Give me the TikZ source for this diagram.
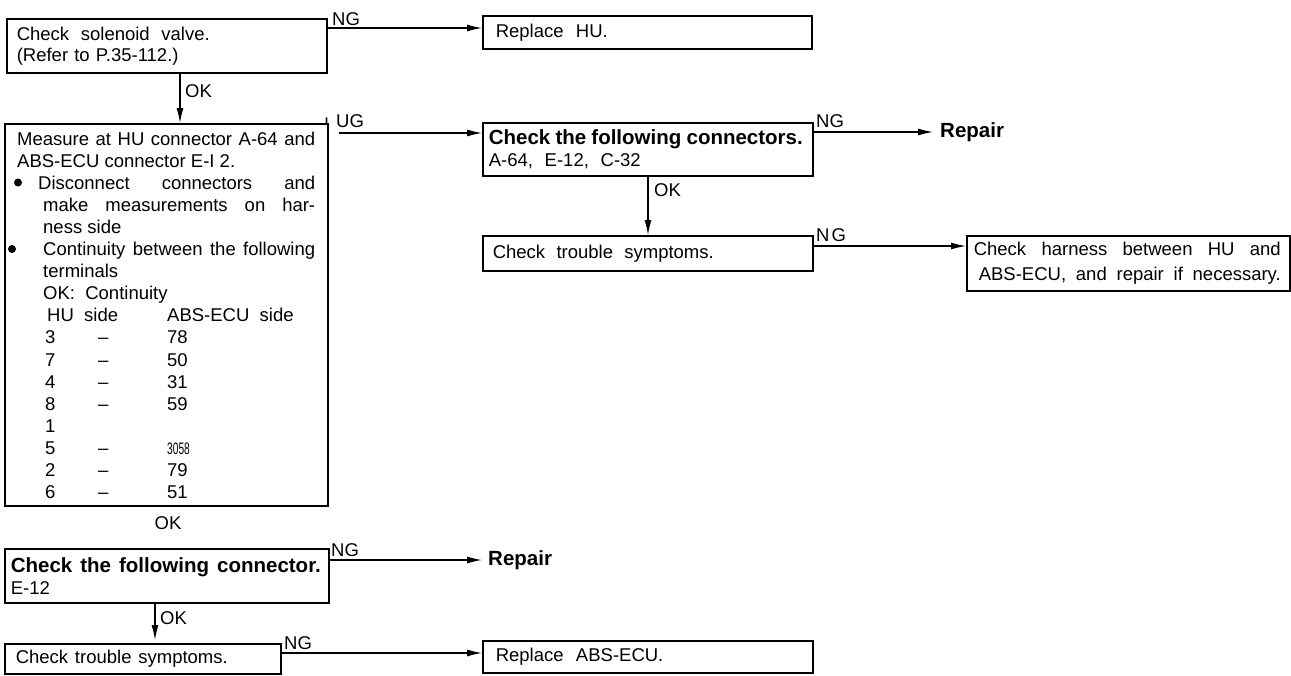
\documentclass[tikz,border=0pt]{standalone}
\usepackage{fontspec}
\setmainfont{Liberation Sans}
\usepackage{graphicx}
\usetikzlibrary{arrows.meta,calc}
\newcommand\fRg{\fontsize{18.5}{22}\selectfont}
\newcommand\fBd{\fontsize{20.5}{22}\selectfont\bfseries}
\newcommand\jst[2]{\makebox[#1][s]{\spaceskip=0pt\xspaceskip=0pt #2}}
\newcommand\trow[2]{\hspace*{28pt}\makebox[53pt][l]{#1}\makebox[69pt][l]{–}#2}
\begin{document}
\begin{tikzpicture}[x=1pt,y=-1pt,
 box/.style={draw,line width=1.6pt,anchor=north west,inner ysep=0pt,align=left,font=\fRg},
 lbl/.style={inner sep=0pt,font=\fRg},
 bd/.style={inner sep=0pt,font=\fBd},
 arr/.style={line width=1.2pt,-{Latex[length=15pt,width=7pt]}},
]
\useasboundingbox (0,0) rectangle (1291,675);

% ---- boxes ----
\node[box,inner xsep=10pt,text width=300pt,minimum height=54pt,font=\fontsize{18.5}{21}\selectfont] (sol) at (6,18)
  {\jst{193pt}{Check solenoid valve.}\\(Refer to P.35-112.)};
\node[box,inner xsep=13pt,text width=303pt,minimum height=33pt] (rhu) at (482,15) {Replace\ \ HU.};
\node[draw,line width=1.6pt,anchor=north west,minimum width=323pt,minimum height=382pt,inner sep=0pt] (meas) at (4,123) {};
\node[lbl,anchor=base west] (meastxt) at (17,145) {\parbox[t]{300pt}{\baselineskip=22.1pt
  \jst{298pt}{Measure at HU connector A-64 and}\\
  ABS-ECU connector E-I 2.\\
  \hspace*{21pt}\jst{277pt}{Disconnect connectors and}\\
  \hspace*{26pt}\jst{272pt}{make measurements on har-}\\
  \hspace*{26pt}ness side\\
  \hspace*{26pt}\jst{272pt}{Continuity between the following}\\
  \hspace*{26pt}terminals\\
  \hspace*{26pt}OK:\ \ Continuity\\
  \hspace*{30pt}\makebox[120pt][l]{HU\ \ side}ABS-ECU\ \ side\\
  \trow{3}{78}\\
  \trow{7}{50}\\
  \trow{4}{31}\\
  \trow{8}{59}\\
  \hspace*{28pt}1\\
  \trow{5}{\scalebox{0.55}[0.9]{3058}}\\
  \trow{2}{79}\\
  \trow{6}{51}}};
\fill (18,182.5) circle (4pt);
\fill (12,249) circle (4pt);
\node[box,inner xsep=6pt,text width=318pt,minimum height=53pt] (conn) at (482,122)
  {\jst{314pt}{\fBd Check the following connectors.}\\\jst{152pt}{A-64, E-12, C-32}};
\node[box,inner xsep=10pt,text width=310pt,minimum height=35pt] (tr1) at (482,235) {\jst{221pt}{Check trouble symptoms.}};
\node[box,inner xsep=7pt,text width=309pt,minimum height=55pt,font=\fontsize{18.5}{25}\selectfont] (har) at (966,235)
  {\jst{307pt}{Check harness between HU and}\\\hspace*{5pt}\jst{302pt}{ABS-ECU, and repair if necessary.}};
\node[box,inner xsep=6pt,text width=312pt,minimum height=54pt] (conn2) at (4,548)
  {\jst{310pt}{\fBd Check the following connector.}\\E-12};
\node[box,inner xsep=11pt,text width=254pt,minimum height=30pt] (tr2) at (4,643) {\jst{212pt}{Check trouble symptoms.}};
\node[box,inner xsep=13pt,text width=304pt,minimum height=32pt] (rabs) at (482,640) {Replace\ \ ABS-ECU.};

% ---- free texts ----
\node[bd,anchor=west] (rep1) at (940,132) {Repair};
\node[bd,anchor=west] (rep2) at (488,560) {Repair};

% ---- labels ----
\node[lbl,anchor=south west] (ng1) at (332,26) {NG};
\node[lbl,anchor=west] (ok1) at (185,91) {OK};
\node[anchor=south west,inner sep=0pt,font=\fontsize{11}{11}\selectfont\bfseries] (ugi) at (325,126) {I};
\node[lbl,anchor=south west] (ug) at (336,128) {UG};
\node[lbl,anchor=south west] (ng3) at (816,128) {NG};
\node[lbl,anchor=west] (ok2) at (654,190) {OK};
\node[lbl,anchor=south west] (ng4) at (816,242) {N\kern2pt G};
\node[lbl] (ok4) at (168,523) {OK};
\node[lbl,anchor=south west] (ng2) at (331,557) {NG};
\node[lbl,anchor=west] (ok3) at (160,618) {OK};
\node[lbl,anchor=south west] (ng5) at (284,650) {NG};

% ---- connectors ----
\coordinate (p1) at ($(sol.north east)+(0,10)$);
\draw[arr] (p1) -- (p1 -| rhu.west);
\draw[arr] ($(sol.south west)+(174,0)$) -- ($(meas.north west)+(176,0)$);
\coordinate (p2) at ($(meas.north east)+(10,10)$);
\draw[arr] (p2) -- (p2 -| conn.west);
\draw[arr,shorten >=7pt] (conn.east |- rep1) -- (rep1.west);
\draw[arr] ($(conn.south west)+(166,0)$) -- ($(tr1.north west)+(166,0)$);
\coordinate (p4) at ($(tr1.north east)+(0,11)$);
\draw[arr] (p4) -- (p4 -| har.west);
\draw[arr,shorten >=6pt] (conn2.east |- rep2) -- (rep2.west);
\draw[arr,shorten >=3pt] ($(conn2.south west)+(151,0)$) -- ($(tr2.north west)+(151,0)$);
\coordinate (p5) at ($(tr2.north east)+(0,10)$);
\draw[arr] (p5) -- (p5 -| rabs.west);
\end{tikzpicture}
\end{document}
